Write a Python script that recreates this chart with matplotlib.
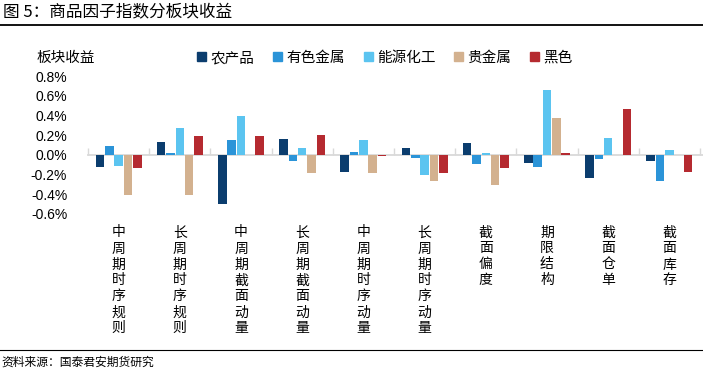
import matplotlib
matplotlib.use("Agg")
import matplotlib.pyplot as plt
import numpy as np
from matplotlib.lines import Line2D

plt.rcParams['font.family'] = ['Liberation Sans', 'Noto Sans CJK SC', 'DejaVu Sans']

categories = ["中周期时序规则", "长周期时序规则", "中周期截面动量", "长周期截面动量", "中周期时序动量",
              "长周期时序动量", "截面偏度", "期限结构", "截面仓单", "截面库存"]
series_names = ["农产品", "有色金属", "能源化工", "贵金属", "黑色"]
agri    = [-0.12, 0.13, -0.50, 0.16, -0.17, 0.065, 0.12, -0.08, -0.23, -0.06]
nonfer  = [0.085, 0.015, 0.155, -0.06, 0.025, -0.03, -0.09, -0.12, -0.04, -0.27]
energy  = [-0.11, 0.27, 0.39, 0.068, 0.15, -0.20, 0.015, 0.66, 0.17, 0.048]
precious= [-0.41, -0.41, 0.0, -0.185, -0.185, -0.27, -0.31, 0.37, 0.0, 0.0]
ferrous = [-0.13, 0.19, 0.187, 0.197, -0.01, -0.185, -0.13, 0.015, 0.47, -0.17]
values = [agri, nonfer, energy, precious, ferrous]
colors = ["#0B3D6E", "#2B94D8", "#5BC4F0", "#D3B18F", "#B52A30"]
yticks = [-0.6, -0.4, -0.2, 0.0, 0.2, 0.4, 0.6, 0.8]

W, H = 703, 374
fig = plt.figure(figsize=(W/100, H/100), dpi=100)
ax = fig.add_axes([88/W, 1-214/H, (W-88)/W, (214-76)/H])

n = len(categories)
x = np.arange(n)
step = 0.153
bw = 0.14
for i, (vals, c, name) in enumerate(zip(values, colors, series_names)):
    ax.bar(x + (i-2)*step, vals, width=bw, color=c, label=name, zorder=3)

ax.set_ylim(-0.6, 0.8)
ax.set_xlim(-0.5, n - 0.5 + 3/61.2)
ax.set_yticks(yticks)
ax.set_yticklabels([f"{v:.1f}%" for v in yticks], fontsize=10)
ax.tick_params(axis='y', length=0, pad=15)
for s in ['left', 'right', 'top']:
    ax.spines[s].set_visible(False)
ax.spines['bottom'].set_position(('data', 0))
ax.spines['bottom'].set_color('#D9D9D9')
ax.spines['bottom'].set_linewidth(1.3)
ax.spines['bottom'].set_zorder(2)
ax.set_xticks(np.arange(n + 1) - 0.5)
ax.set_xticklabels([])
ax.tick_params(axis='x', direction='in', length=5, color='#D9D9D9', width=1)

for i, cat in enumerate(categories):
    ax.text(i, -0.083, "\n".join(cat), transform=ax.get_xaxis_transform(),
            ha='center', va='top', fontsize=10, linespacing=1.18,
            family=['Noto Sans CJK SC'])

# y label
fig.text(37/W, 1-58/H, "板块收益", fontsize=10.5, ha='left', va='center', family=['Noto Sans CJK SC'])

# legend
handles = [plt.Rectangle((0, 0), 1, 1, color=c) for c in colors]
leg = fig.legend(handles, series_names, loc='center', bbox_to_anchor=(385/W, 1-58/H),
                 ncol=5, frameon=False, fontsize=10.5, handlelength=0.6, handleheight=0.6,
                 handletextpad=0.3, columnspacing=1.3, borderpad=0)

# title and rules
fig.text(3/W, 1-12/H, "图 5：商品因子指数分板块收益", fontsize=12, ha='left', va='center',
         family=['Noto Sans CJK SC'])
fig.add_artist(Line2D([0, 1], [1-25/H, 1-25/H], color='black', lw=1.3, transform=fig.transFigure))
fig.add_artist(Line2D([0, 1], [1-350/H, 1-350/H], color='black', lw=0.8, transform=fig.transFigure))
fig.text(1/W, 1-362/H, "资料来源：国泰君安期货研究", fontsize=8.5, ha='left', va='center',
         family=['Noto Sans CJK SC'])

fig.savefig("out.png", dpi=100)
